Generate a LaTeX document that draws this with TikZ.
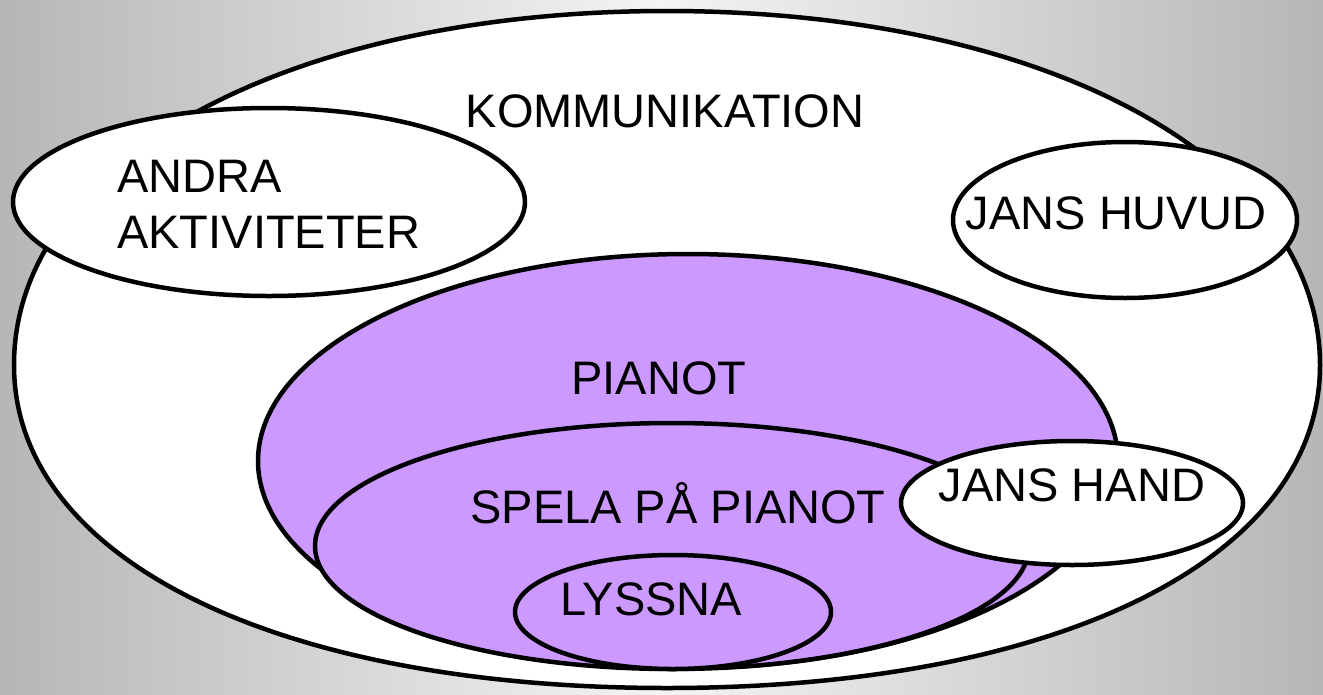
\documentclass[tikz,border=0pt]{standalone}
\usepackage{fontspec}
\setmainfont{Liberation Sans}
\usetikzlibrary{shapes.geometric}
\definecolor{bgedge}{RGB}{182,182,182}
\definecolor{bgmid}{RGB}{244,244,244}
\definecolor{lilac}{RGB}{204,153,255}
\begin{document}
\begin{tikzpicture}[x=1pt,y=-1pt,
  outline/.style={draw=black,line width=4.5pt,fill=white},
  blob/.style={ellipse,outline,inner sep=0pt},
  lilacblob/.style={blob,fill=lilac},
  lbl/.style={inner sep=0pt,font=\fontsize{47}{56}\selectfont,anchor=center}]
\useasboundingbox (0,0) rectangle (1323,694);
\shade[left color=bgedge,right color=bgedge,middle color=bgmid] (0,0) rectangle (1323,694);
% outer region (KOMMUNIKATION), slightly fuller than an ellipse
\coordinate (kw) at (14,365);
\coordinate (kn) at (667,11);
\coordinate (ke) at (1320,365);
\coordinate (ks) at (667,688);
\draw[outline] (kw) .. controls (14,159.7) and (288.3,11) .. (kn)
  .. controls (1045.7,11) and (1320,159.7) .. (ke)
  .. controls (1320,558.8) and (1058.8,688) .. (ks)
  .. controls (275.2,688) and (14,558.8) .. cycle;
\node[blob,minimum width=512pt,minimum height=188pt] (andra) at (269,202) {};
\node[blob,minimum width=344pt,minimum height=156pt] (huvud) at (1125,220) {};
\node[lilacblob,minimum width=860pt,minimum height=414pt] (pianot) at (688,461) {};
\node[lilacblob,minimum width=714pt,minimum height=246pt] (spela) at (672,546) {};
\node[lilacblob,minimum width=316pt,minimum height=114pt] (lyssna) at (673,612) {};
\node[blob,minimum width=342pt,minimum height=124pt] (hand) at (1072,503) {};
% labels
\node[lbl] (tkomm) at (665,111) {KOMMUNIKATION};
\node[lbl,align=left,anchor=north west] (tandra) at (117,160) {ANDRA\\AKTIVITETER};
\node[lbl] (thuvud) at (1116,213) {JANS HUVUD};
\node[lbl] (tpianot) at (659,378) {PIANOT};
\node[lbl] (tspela) at (678,503) {SPELA PÅ PIANOT};
\node[lbl] (tlyssna) at (651,599) {LYSSNA};
\node[lbl] (thand) at (1072,485) {JANS HAND};
\end{tikzpicture}
\end{document}
